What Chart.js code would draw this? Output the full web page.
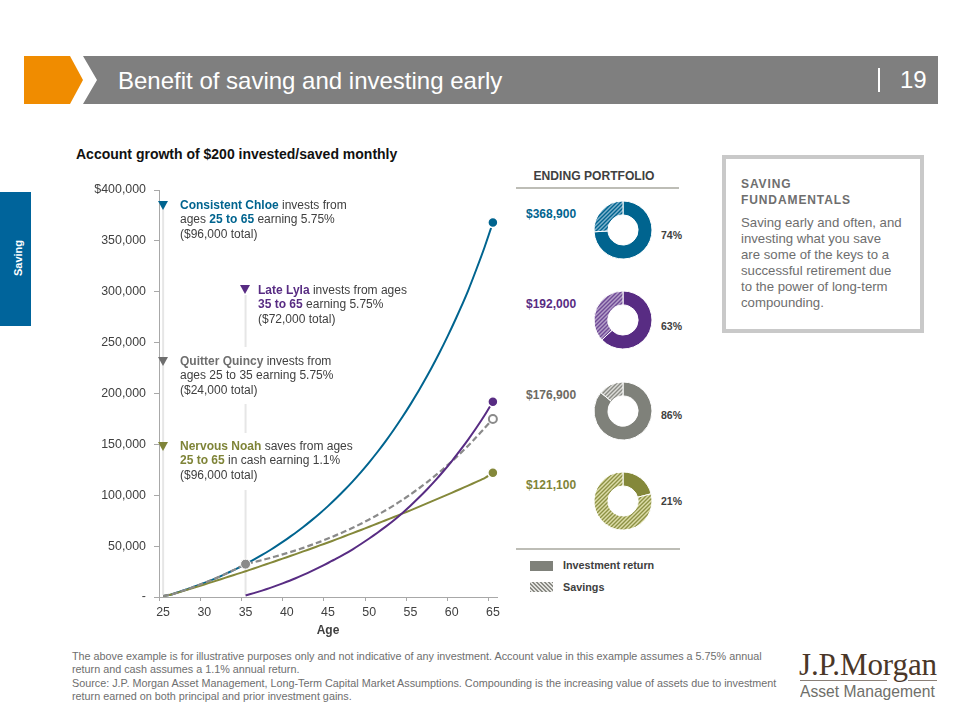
<!DOCTYPE html>
<html>
<head>
<meta charset="utf-8">
<script src="https://cdn.jsdelivr.net/npm/chart.js@4"></script>
<style>
  html, body { margin: 0; padding: 0; background: #fff; }
  body { width: 960px; height: 720px; position: relative; overflow: hidden; font-family: "Liberation Sans", Arial, sans-serif; color: #404040; }
  .abs { position: absolute; white-space: nowrap; }
  .note { font-size: 12px; line-height: 14.4px; }
  .value { font-size: 12px; font-weight: bold; }
  .pct { font-size: 10.5px; font-weight: bold; }
  .rule { position: absolute; height: 2px; background: #bdbdb6; }
  .tri { position: absolute; width: 0; height: 0; border-left: 5px solid transparent; border-right: 5px solid transparent; border-top: 9px solid; }
  .donut { position: absolute; }
  b.blue { color: #00648f; } b.purple { color: #582c83; } b.gray { color: #6e6e6e; } b.olive { color: #7f8438; }
</style>
</head>
<body>
  <!-- banner -->
  <div class="abs" style="left:24px;top:56px;width:59px;height:48px;background:#f08c00;clip-path:polygon(0 0,46px 0,59px 24px,46px 48px,0 48px)"></div>
  <div class="abs" style="left:83px;top:56px;width:855px;height:48px;background:#7f7f7f;clip-path:polygon(0 0,100% 0,100% 100%,0 100%,14px 24px)"></div>
  <div class="abs" style="left:118px;top:65px;font-size:24px;line-height:32px;color:#fff">Benefit of saving and investing early</div>
  <div class="abs" style="left:878px;top:68px;width:2px;height:24px;background:#fff"></div>
  <div class="abs" style="left:900px;top:64px;font-size:24px;line-height:32px;color:#fff">19</div>

  <!-- side tab -->
  <div class="abs" style="left:0;top:192px;width:31px;height:134px;background:#00649b"></div>
  <div class="abs" style="left:-7px;top:251px;width:50px;text-align:center;font-size:11px;font-weight:bold;line-height:14px;color:#fff;transform:rotate(-90deg)">Saving</div>

  <div class="abs" style="left:76px;top:146px;font-size:14px;line-height:16px;font-weight:bold;color:#111">Account growth of $200 invested/saved monthly</div>

  <!-- line chart -->
  <div class="abs" style="left:70px;top:170px;width:440px;height:470px"><canvas id="growthChart" width="440" height="470"></canvas></div>

  <!-- annotations -->
  <div class="tri" style="left:158px;top:201px;color:#00648f"></div>
  <div class="abs note" style="left:180px;top:198px"><b class="blue">Consistent Chloe</b> invests from<br>ages <b class="blue">25 to 65</b> earning 5.75%<br>($96,000 total)</div>
  <div class="tri" style="left:240px;top:285px;color:#582c83"></div>
  <div class="abs note" style="left:258px;top:283px"><b class="purple">Late Lyla</b> invests from ages<br><b class="purple">35 to 65</b> earning 5.75%<br>($72,000 total)</div>
  <div class="tri" style="left:158px;top:357px;color:#6e6e6e"></div>
  <div class="abs note" style="left:180px;top:354px"><b class="gray">Quitter Quincy</b> invests from<br>ages 25 to 35 earning 5.75%<br>($24,000 total)</div>
  <div class="tri" style="left:158px;top:442px;color:#7f8438"></div>
  <div class="abs note" style="left:180px;top:439px"><b class="olive">Nervous Noah</b> saves from ages<br><b class="olive">25 to 65</b> in cash earning 1.1%<br>($96,000 total)</div>

  <!-- ending portfolio -->
  <div class="abs" style="left:516px;top:169px;width:156px;text-align:center;font-size:12.1px;line-height:14px;font-weight:bold">ENDING PORTFOLIO</div>
  <div class="rule" style="left:516px;top:187px;width:163px"></div>
  <div class="abs value" style="left:526px;top:207px;color:#00648f">$368,900</div>
  <div class="abs value" style="left:526px;top:297px;color:#582c83">$192,000</div>
  <div class="abs value" style="left:526px;top:388px;color:#6d6a63">$176,900</div>
  <div class="abs value" style="left:526px;top:478px;color:#7f8438">$121,100</div>
  <canvas class="donut" id="donut0" width="70" height="70" style="left:588px;top:195px"></canvas>
  <canvas class="donut" id="donut1" width="70" height="70" style="left:588px;top:285px"></canvas>
  <canvas class="donut" id="donut2" width="70" height="70" style="left:588px;top:376px"></canvas>
  <canvas class="donut" id="donut3" width="70" height="70" style="left:588px;top:466px"></canvas>
  <div class="abs pct" style="left:661px;top:229px">74%</div>
  <div class="abs pct" style="left:661px;top:320px">63%</div>
  <div class="abs pct" style="left:661px;top:409px">86%</div>
  <div class="abs pct" style="left:661px;top:495px">21%</div>
  <div class="rule" style="left:516px;top:548px;width:164px"></div>
  <div class="abs" style="left:530px;top:561px;width:23px;height:10px;background:#7f817a"></div>
  <div class="abs" style="left:530px;top:582px;width:23px;height:10px;background:repeating-linear-gradient(45deg,#8a8b85 0 1.4px,#e4e4e0 1.4px 2.8px)"></div>
  <div class="abs" style="left:563px;top:559px;font-size:10.8px;line-height:13px;font-weight:bold">Investment return</div>
  <div class="abs" style="left:563px;top:581px;font-size:10.8px;line-height:13px;font-weight:bold">Savings</div>

  <!-- side box -->
  <div class="abs" style="left:722px;top:155px;width:194px;height:170px;border:4px solid #c9c9c9"></div>
  <div class="abs" style="left:741px;top:176px;font-size:12px;line-height:16px;font-weight:bold;color:#6e6e6e;letter-spacing:.9px">SAVING<br>FUNDAMENTALS</div>
  <div class="abs" style="left:741px;top:215px;font-size:13.2px;line-height:16px;color:#6e6e6e">Saving early and often, and<br>investing what you save<br>are some of the keys to a<br>successful retirement due<br>to the power of long-term<br>compounding.</div>

  <!-- footer -->
  <div class="abs" style="left:72px;top:650px;font-size:10.8px;line-height:12.5px;color:#6e6e6e">The above example is for illustrative purposes only and not indicative of any investment. Account value in this example assumes a 5.75% annual<br>return and cash assumes a 1.1% annual return.</div>
  <div class="abs" style="left:72px;top:677px;font-size:10.8px;line-height:12.5px;color:#6e6e6e">Source: J.P. Morgan Asset Management, Long-Term Capital Market Assumptions. Compounding is the increasing value of assets due to investment<br>return earned on both principal and prior investment gains.</div>

  <!-- logo -->
  <div class="abs" style="left:799px;top:648px;font-family:'Liberation Serif',serif;font-size:31px;line-height:34px;letter-spacing:-.1px;color:#4a3728">J.P.Morgan</div>
  <div class="abs" style="left:800px;top:680px;width:87px;height:1px;background:#8a8078"></div>
  <div class="abs" style="left:908px;top:680px;width:29px;height:1px;background:#8a8078"></div>
  <div class="abs" style="left:800px;top:682px;font-size:17px;line-height:20px;color:#6f6f6a;transform:scaleX(.92);transform-origin:left">Asset Management</div>

<script>
const ages = [25, 26, 27, 28, 29, 30, 31, 32, 33, 34, 35, 36, 37, 38, 39, 40, 41, 42, 43, 44, 45,
  46, 47, 48, 49, 50, 51, 52, 53, 54, 55, 56, 57, 58, 59, 60, 61, 62, 63, 64, 65];

const chloe = [1000, 2500, 5100, 7800, 10800, 13900, 17100, 20600, 24300, 28200, 32300,
  36700, 41300, 46200, 51400, 56900, 62700, 68800, 75300, 82100, 89300,
  97000, 105100, 113700, 122800, 132400, 142500, 153200, 164600, 176600, 189300,
  202700, 216900, 231900, 247800, 264600, 282400, 301200, 322100, 344000, 368000];
const lyla = [null, null, null, null, null, null, null, null, null, null, 1500,
  3800, 6300, 9000, 11900, 15000, 18200, 21700, 25400, 29300, 33400,
  37600, 42100, 46900, 52100, 57500, 63200, 69200, 75500, 82400, 89700,
  97500, 105700, 114400, 123600, 133400, 143800, 154700, 166300, 178600, 192000];
const quincy = [1000, 2500, 5100, 7800, 10800, 13900, 17100, 20600, 24300, 28200, 32300,
  34200, 36300, 38400, 40700, 43100, 45600, 48300, 51200, 54200, 57400,
  60800, 64300, 68000, 72000, 76200, 80600, 85200, 90100, 95300, 100800,
  106600, 112700, 119200, 126000, 133200, 140700, 148700, 157200, 166000, 175000];
const noah = [1000, 2400, 4800, 7300, 9800, 12300, 14900, 17400, 20100, 22700, 25300,
  28000, 30800, 33500, 36300, 39100, 41900, 44800, 47700, 50700, 53600,
  56600, 59700, 62800, 65900, 69000, 72200, 75400, 78600, 81900, 85200,
  88600, 92000, 95400, 98900, 102400, 105900, 109500, 113100, 116800, 122000];

const yTickLabels = ['-', '50,000', '100,000', '150,000', '200,000', '250,000', '300,000', '350,000', '$400,000'];

const investmentShare = [74, 63, 86, 21];
const savingsShare = [26, 37, 14, 79];

const blue = '#00648f', purple = '#582c83', gray = '#8a8a8a', olive = '#84883a';
const axisColor = '#a8a8a8';
const lastIdx = ages.length - 1;

Chart.defaults.font.family = '"Liberation Sans", Arial, sans-serif';
Chart.defaults.color = '#404040';
Chart.defaults.animation = false;

function hatch(fg, bg) {
  const c = document.createElement('canvas');
  c.width = c.height = 4;
  const g = c.getContext('2d');
  g.fillStyle = bg;
  g.fillRect(0, 0, 4, 4);
  g.strokeStyle = fg;
  g.lineWidth = 1.4;
  g.beginPath();
  g.moveTo(-1, 1); g.lineTo(1, -1);
  g.moveTo(-1, 5); g.lineTo(5, -1);
  g.moveTo(3, 5); g.lineTo(5, 3);
  g.stroke();
  return g.createPattern(c, 'repeat');
}

// light guide lines behind the annotations
const guides = {
  id: 'guides',
  beforeDatasetsDraw(chart) {
    const { ctx, scales: { x } } = chart;
    const segs = [[0, 205, 595], [10, 295, 347], [10, 404, 433], [10, 490, 595]];
    ctx.save();
    ctx.strokeStyle = '#e6e6e6';
    ctx.lineWidth = 2;
    segs.forEach(([idx, y0, y1]) => {
      const px = x.getPixelForValue(idx);
      ctx.beginPath();
      ctx.moveTo(px, y0 - 170);
      ctx.lineTo(px, y1 - 170);
      ctx.stroke();
    });
    ctx.restore();
  }
};

function lineSet(label, data, color, order, extra) {
  return Object.assign({
    label,
    data,
    order,
    borderColor: color,
    backgroundColor: color,
    borderWidth: 2,
    tension: 0.2,
    pointRadius: c => c.dataIndex === lastIdx ? 5 : 0,
    pointBorderColor: '#fff',
    pointBorderWidth: 1.5,
    pointBackgroundColor: color,
    clip: false,
  }, extra);
}

new Chart(document.getElementById('growthChart'), {
  type: 'line',
  plugins: [guides],
  data: {
    labels: ages,
    datasets: [
      lineSet('Consistent Chloe', chloe, blue, 3),
      lineSet('Late Lyla', lyla, purple, 0),
      lineSet('Nervous Noah', noah, olive, 2),
      lineSet('Quitter Quincy', quincy, gray, 1, {
        borderWidth: 2.2,
        borderDash: [6, 3],
        pointRadius: c => (c.dataIndex === lastIdx ? 4 : c.dataIndex === 10 ? 5 : 0),
        pointBackgroundColor: c => c.dataIndex === lastIdx ? '#fff' : gray,
        pointBorderColor: c => c.dataIndex === lastIdx ? gray : '#fff',
        pointBorderWidth: c => c.dataIndex === lastIdx ? 2 : 1,
      }),
    ]
  },
  options: {
    responsive: false,
    layout: { padding: { top: 20, right: 13, left: 0, bottom: 2 } },
    plugins: { legend: { display: false }, tooltip: { enabled: false } },
    scales: {
      x: {
        type: 'category',
        offset: true,
        afterFit: s => { s.height = 41; },
        border: { color: axisColor, width: 1 },
        grid: {
          offset: true,
          drawOnChartArea: false,
          tickLength: 4,
          tickColor: c => (c.index % 5 === 0 ? axisColor : 'transparent'),
        },
        ticks: {
          autoSkip: false,
          maxRotation: 0,
          padding: 4,
          font: { size: 12.4 },
          callback: (v, i) => (i % 5 === 0 ? String(ages[i]) : ''),
        },
        title: { display: true, text: 'Age', font: { size: 12, weight: 'bold' }, padding: { top: 3, bottom: 0 } },
      },
      y: {
        min: 0,
        max: 400000,
        afterFit: s => { s.width = 89; },
        border: { color: axisColor, width: 1 },
        grid: { drawOnChartArea: false, tickLength: 5, tickColor: axisColor },
        ticks: {
          stepSize: 50000,
          padding: 8,
          font: { size: 12.4 },
          callback: (v, i) => yTickLabels[i],
        },
      },
    },
  },
});

const donutColors = [
  [blue, hatch(blue, '#7fb2cc')],
  [purple, hatch('#6f4a96', '#b5a0c8')],
  ['#7f817a', hatch('#8a8b85', '#dcdcd8')],
  [olive, hatch('#8d9145', '#dcdca8')],
];

donutColors.forEach((colors, i) => {
  new Chart(document.getElementById('donut' + i), {
    type: 'doughnut',
    data: {
      labels: ['Investment return', 'Savings'],
      datasets: [{
        data: [investmentShare[i], savingsShare[i]],
        backgroundColor: colors,
        borderColor: '#fff',
        borderWidth: 1,
      }]
    },
    options: {
      responsive: false,
      radius: 29,
      cutout: '52%',
      plugins: { legend: { display: false }, tooltip: { enabled: false } },
    },
  });
});
</script>
</body>
</html>
